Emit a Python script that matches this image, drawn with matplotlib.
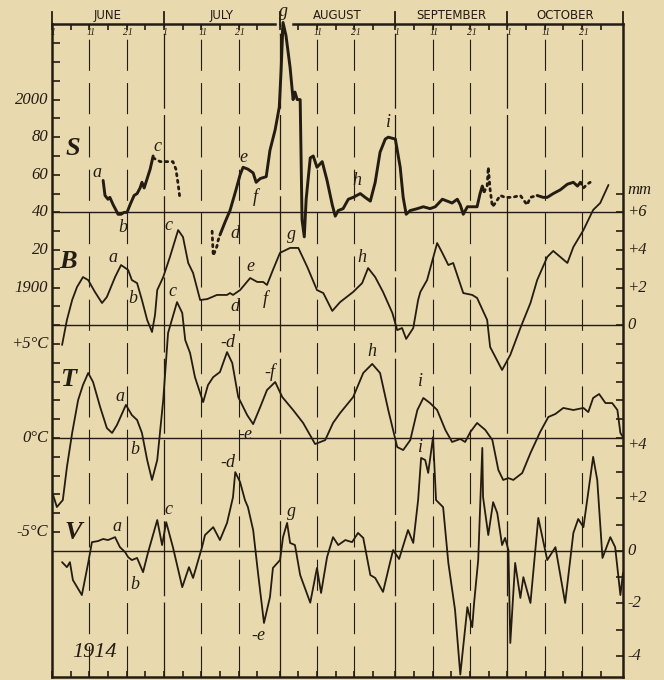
import matplotlib.pyplot as plt

paper = '#e9d9ae'
ink = '#231c12'

months = ['JUNE', 'JULY', 'AUGUST', 'SEPTEMBER', 'OCTOBER']
month_days = [30, 31, 31, 30, 31]

# S curve (left scale), day counted from 1 June; pieces drawn solid or dotted
s_solid1_day = [13.7, 14.2, 15.0, 15.5, 16.4, 17.2, 17.7, 18.5, 19.3, 20.1, 20.9, 22.0, 22.8, 23.6, 24.1, 24.7, 25.5, 26.3, 27.1]
s_solid1_val = [1957, 1949, 1947, 1948, 1944, 1941, 1939, 1939, 1940, 1940, 1944, 1949, 1950, 1953, 1956, 1953, 1958, 1963, 1970]
s_dot1_day = [27.1, 29.0, 32.4, 33.2, 33.8, 34.3]
s_dot1_val = [1969, 1967, 1967, 1963, 1955, 1947]
s_dot2_day = [42.9, 43.2, 44.2, 44.5, 45.0]
s_dot2_val = [1930, 1917, 1922, 1925, 1928]
s_solid2_day = [45.0, 46.4, 47.7, 49.3, 50.4, 51.2, 52.5, 53.9, 54.7, 55.8, 57.4, 58.4, 59.8, 60.9, 61.4, 61.9,
                62.7, 63.8, 64.6, 65.1, 65.7, 66.5, 67.0, 67.6, 68.1, 69.2, 70.0, 71.0, 72.4, 73.7, 75.1, 75.9,
                76.7, 78.0, 79.4, 80.7, 82.6, 83.9, 85.3, 86.6, 87.9, 89.3, 90.1, 92.0, 93.3, 94.1, 94.9, 96.0,
                97.9, 99.5, 101.3, 102.7, 104.6, 105.9, 107.2, 108.6, 109.4, 110.2, 111.3, 112.9, 113.9, 114.7, 115.3, 115.8]
s_solid2_val = [1928, 1935, 1941, 1952, 1960, 1964, 1963, 1961, 1956, 1958, 1959, 1973, 1984, 1996, 2016, 2041,
                2034, 2017, 2000, 2004, 2000, 2000, 1936, 1927, 1947, 1969, 1970, 1964, 1967, 1957, 1944, 1938,
                1941, 1942, 1947, 1948, 1950, 1948, 1946, 1956, 1972, 1979, 1980, 1979, 1964, 1948, 1939, 1941,
                1942, 1943, 1942, 1943, 1947, 1946, 1945, 1947, 1944, 1939, 1943, 1943, 1943, 1950, 1954, 1951]
s_dot3_day = [115.8, 116.6, 116.9, 117.4, 118.0, 118.8, 120.1, 121.4, 123.3, 125.5, 127.3, 128.2, 130.0]
s_dot3_val = [1951, 1954, 1964, 1952, 1943, 1945, 1949, 1948, 1948, 1949, 1944, 1948, 1949]
s_solid3_day = [130.0, 131.6, 132.7, 134.3, 136.2, 138.1, 139.7, 140.8, 141.6]
s_solid3_val = [1949, 1948, 1948, 1950, 1952, 1955, 1956, 1954, 1956]
s_dot4_day = [141.6, 142.4, 143.4, 144.2]
s_dot4_val = [1956, 1953, 1955, 1956]

# B curve (upper right scale, mm)
b_day = [2.7, 4.0, 5.4, 6.7, 8.3, 9.7, 11.5, 13.4, 14.7, 16.9, 18.5, 19.6, 20.4, 21.4, 22.8, 24.1, 25.5, 26.8,
         27.6, 28.2, 29.8, 31.6, 33.8, 35.1, 36.5, 37.8, 39.7, 41.6, 44.2, 46.9, 47.7, 48.5, 50.4, 53.1, 55.0,
         56.6, 57.6, 59.2, 61.1, 63.8, 66.0, 68.4, 71.0, 72.7, 75.1, 77.2, 80.7, 83.1, 84.7, 86.6, 88.7, 91.2,
         92.5, 93.8, 94.9, 96.8, 98.1, 98.7, 100.5, 103.2, 104.6, 106.2, 107.5, 110.2, 112.6, 113.9, 116.6,
         117.4, 120.6, 122.8, 125.5, 128.2, 130.0, 132.7, 134.3, 136.2, 138.1, 139.7, 142.4, 145.0, 146.9, 149.1]
b_mm = [-1.05, 0.28, 1.34, 2.03, 2.56, 2.40, 1.77, 1.18, 1.50, 2.56, 3.20, 3.05, 2.94, 2.40, 2.24, 1.34, 0.28, -0.36,
        0.54, 1.87, 2.56, 3.63, 5.06, 4.69, 3.31, 2.78, 1.34, 1.39, 1.61, 1.61, 1.71, 1.61, 1.87, 2.51, 2.30,
        2.30, 2.14, 2.94, 3.85, 4.11, 4.11, 3.10, 1.87, 1.71, 0.76, 1.23, 1.77, 2.24, 3.04, 2.56, 1.77, 0.65,
        -0.26, -0.15, -0.73, -0.15, 1.34, 1.77, 2.40, 4.37, 3.84, 3.20, 3.31, 1.71, 1.61, 1.45, 0.28,
        -1.16, -2.38, -1.58, -0.15, 1.18, 2.40, 3.63, 3.95, 3.63, 3.31, 4.16, 5.06, 6.13, 6.50, 7.46]

# T curve (degrees C)
t_day = [0.3, 1.3, 2.9, 4.0, 5.4, 7.0, 8.3, 9.7, 11.0, 12.9, 14.7, 16.1, 17.4, 19.8, 21.4, 22.8, 24.1, 25.5, 26.8,
         28.2, 29.8, 31.1, 33.5, 34.9, 35.7, 37.0, 38.3, 40.5, 41.8, 43.2, 45.0, 46.9, 48.3, 49.9, 52.3, 53.9,
         55.8, 57.6, 59.8, 61.7, 64.6, 67.3, 70.5, 73.2, 75.3, 77.2, 80.7, 83.4, 85.8, 87.9, 90.1, 92.5, 94.1,
         96.0, 97.9, 99.5, 101.3, 103.2, 105.4, 107.2, 109.4, 110.7, 112.1, 113.9, 116.1, 118.0, 119.6, 120.9,
         122.3, 123.6, 126.0, 128.2, 130.8, 133.0, 134.9, 137.0, 139.7, 142.4, 143.7, 145.0, 146.6, 148.3,
         150.1, 151.5, 152.3, 153.0]
t_deg = [-3.03, -3.67, -3.30, -1.54, 0.27, 2.02, 2.82, 3.46, 2.98, 1.65, 0.53, 0.27, 0.69, 1.76, 1.22, 0.96, 0.27,
         -1.17, -2.23, -1.17, 2.02, 5.59, 7.23, 6.65, 5.21, 4.52, 3.24, 1.91, 2.82, 3.24, 3.51, 4.57, 3.99, 2.18,
         1.22, 0.74, 1.65, 2.55, 2.98, 2.18, 1.49, 0.80, -0.32, -0.11, 0.80, 1.33, 2.18, 3.46, 3.94, 3.46, 1.49,
         -0.48, -0.64, -0.11, 1.49, 2.13, 1.86, 1.49, 0.43, -0.21, -0.05, -0.21, 0.32, 0.80, 0.43, -0.11, -1.70,
         -2.23, -2.13, -2.23, -1.86, -0.80, 0.32, 1.12, 1.28, 1.60, 1.49, 1.60, 1.38, 2.13, 2.34, 1.86, 1.86,
         1.49, 0.27, 0.05]

# V curve (lower right scale)
v_day = [2.7, 4.0, 4.8, 5.6, 8.0, 9.7, 10.7, 12.3, 13.7, 15.0, 16.9, 18.2, 19.6, 20.4, 21.4, 22.8, 24.4, 25.7,
         28.2, 29.5, 30.6, 32.4, 34.9, 36.7, 37.8, 40.2, 41.0, 43.2, 45.0, 46.9, 48.5, 49.1, 50.4, 51.7, 52.5,
         53.9, 55.2, 56.8, 58.4, 59.2, 61.1, 61.9, 63.0, 63.8, 65.1, 66.5, 69.2, 71.0, 72.1, 73.7, 75.3, 76.7,
         78.6, 80.4, 82.0, 83.4, 85.3, 86.6, 88.7, 90.6, 91.4, 93.0, 95.4, 96.8, 98.1, 98.9, 100.0, 100.8,
         102.1, 102.9, 104.8, 106.2, 108.0, 109.4, 111.3, 112.6, 113.1, 114.2, 115.3, 115.5, 116.9, 118.2,
         119.3, 120.6, 121.4, 122.3, 122.8, 124.1, 125.5, 126.3, 128.2, 130.3, 132.7, 134.9, 137.5, 139.7,
         141.0, 142.4, 145.0, 146.1, 147.5, 149.6, 150.9, 152.3, 153.0]
v_val = [-0.43, -0.62, -0.43, -1.11, -1.68, -0.46, 0.33, 0.37, 0.45, 0.41, 0.52, 0.14, -0.05, -0.24, -0.35, -0.27,
         -0.81, -0.08, 1.17, 0.22, 1.09, 0.14, -1.38, -0.62, -1.03, 0.14, 0.60, 0.90, 0.41, 1.06, 2.04, 2.99,
         2.61, 1.93, 1.66, 0.79, -0.84, -2.74, -1.76, -0.65, -0.35, 0.52, 1.06, 0.30, 0.22, -0.92, -1.97,
         -0.65, -1.60, -0.24, 0.52, 0.22, 0.41, 0.33, 0.68, 0.49, -0.92, -1.03, -1.56, -0.43, 0.03, -0.31,
         0.79, 0.30, 1.93, 3.53, 3.45, 2.96, 4.32, 1.93, 1.66, -0.46, -2.25, -4.7, -2.14, -2.90, -1.98, -0.35,
         3.91, 2.04, 0.60, 1.85, 1.44, 0.22, 0.49, 0.03, -3.50, -0.46, -1.79, -1.00, -1.98, 1.25, -0.35, 0.14,
         -1.98, 0.68, 1.21, 0.90, 3.57, 2.69, -0.27, 0.52, 0.14, -1.68, -0.84]


# every curve is put on one common vertical scale (1 unit = one left tick)
def s_y(v): return [8 + (x - 1900) / 10 for x in v]
def b_y(v): return [6 + x for x in v]
def t_y(v): return list(v)
def v_y(v): return [-6 + 1.4 * x for x in v]


fig = plt.figure(figsize=(6.64, 6.80), dpi=100, facecolor=paper)
ax = fig.add_axes([52 / 664, 3 / 680, 571 / 664, 653 / 680], facecolor=paper)
ax.set_xlim(0, 153)
ax.set_ylim(-12.71, 22.02)

starts = [0]
for n in month_days:
    starts.append(starts[-1] + n)

# vertical guide lines
for s in starts[1:-1]:
    ax.axvline(s, color=ink, lw=0.9, ls=(0, (60, 5)), zorder=1)
for s in starts[:-1]:
    for d in (10, 20):
        ax.axvline(s + d, color=ink, lw=0.8, ls=(0, (28, 11)), zorder=1)

# base lines
for yb in (12, 6, 0, -6):
    ax.axhline(yb, color=ink, lw=1.0, zorder=1)

lw_s = 2.1
lw = 1.3
kw = dict(color=ink, solid_joinstyle='round', solid_capstyle='round')
ax.plot(s_solid1_day, s_y(s_solid1_val), lw=lw_s, clip_on=False, **kw)
ax.plot(s_solid2_day, s_y(s_solid2_val), lw=lw_s, clip_on=False, **kw)
ax.plot(s_solid3_day, s_y(s_solid3_val), lw=lw_s, clip_on=False, **kw)
for dd, vv in ((s_dot1_day, s_dot1_val), (s_dot2_day, s_dot2_val), (s_dot3_day, s_dot3_val), (s_dot4_day, s_dot4_val)):
    ax.plot(dd, s_y(vv), color=ink, lw=2.0, ls=(0, (0.8, 1.6)), dash_capstyle='round')
ax.plot(b_day, b_y(b_mm), lw=lw, **kw)
ax.plot(t_day, t_y(t_deg), lw=lw, **kw)
ax.plot(v_day, v_y(v_val), lw=lw, clip_on=False, **kw)

# frame (top line broken around the peak g)
for sp in ax.spines.values():
    sp.set_color(ink)
    sp.set_linewidth(1.8)
ax.spines['top'].set_visible(False)
ax.plot([0, 59.8], [22.02, 22.02], color=ink, lw=1.8, clip_on=False)
ax.plot([64.6, 153], [22.02, 22.02], color=ink, lw=1.8, clip_on=False)

ticks = [s + k for s in starts[:-1] for k in (0, 5, 10, 15, 20, 25)]
ax.set_xticks(ticks)
ax.set_xticklabels([])
ax.tick_params(axis='x', which='both', top=True, bottom=True, direction='in', length=4, width=1.2, color=ink)
ax.set_yticks(range(-5, 22))
ax.set_yticklabels([])
ax.tick_params(axis='y', direction='in', length=6, width=1.2, color=ink, right=False)

ax2 = ax.twinx()
ax2.set_ylim(ax.get_ylim())
right_ticks = list(range(0, 14)) + [-0.4 - 1.4 * k for k in range(9)]
ax2.set_yticks(right_ticks)
ax2.set_yticklabels([])
ax2.tick_params(axis='y', direction='in', length=5, width=1.2, color=ink)
for sp in ax2.spines.values():
    sp.set_visible(False)

# month header
serif = 'Liberation Serif'
for name, s, n in zip(months, starts[:-1], month_days):
    ax.text(s + n / 2, 22.45, name, ha='center', va='center', fontsize=8.5, color=ink, clip_on=False)
for s in starts:
    ax.plot([s, s], [22.02, 22.65], color=ink, lw=1.3, clip_on=False)
for s in starts[:-1]:
    for d, lab in ((0, '1'), (10, '11'), (20, '21')):
        ax.text(s + d + 0.4, 21.55, lab, ha='center', va='center', fontsize=7, style='italic',
                family=serif, color=ink)

# left scale labels
left_labels = [('2000', 18), ('80', 16), ('60', 14), ('40', 12), ('20', 10), ('1900', 8),
               ('+5°C', 5), ('0°C', 0), ('-5°C', -5)]
for lab, yv in left_labels:
    ax.text(-1.0, yv, lab, ha='right', va='center', fontsize=12, style='italic', family=serif,
            color=ink, clip_on=False)

right_labels = [('mm', 13.2), ('+6', 12), ('+4', 10), ('+2', 8), ('0', 6),
                ('+4', -0.35), ('+2', -3.2), ('0', -6), ('-2', -8.8), ('-4', -11.6)]
for lab, yv in right_labels:
    ax.text(154.2, yv, lab, ha='left', va='center', fontsize=12, style='italic', family=serif,
            color=ink, clip_on=False)

# curve names and letters
names = [('S', 5.6, 15.4), ('B', 4.3, 9.4), ('T', 4.3, 3.1), ('V', 5.6, -5.05)]
for lab, xd, yv in names:
    ax.text(xd, yv, lab, ha='center', va='center', fontsize=19, style='italic', weight='bold',
            family=serif, color=ink)
letters = [('a', 12.1, 14.1), ('b', 19.0, 11.2), ('c', 28.2, 15.5), ('d', 49.1, 10.9), ('e', 51.2, 14.9),
           ('f', 54.4, 12.8), ('g', 61.9, 22.7), ('h', 81.8, 13.7), ('i', 90.1, 16.8),
           ('a', 16.4, 9.6), ('b', 21.7, 7.4), ('c', 31.1, 11.3), ('d', 49.1, 7.0), ('e', 53.1, 9.1),
           ('f', 57.1, 7.4), ('g', 64.3, 10.8), ('h', 83.1, 9.6),
           ('c', 32.2, 7.8), ('a', 18.2, 2.2), ('b', 22.3, -0.6), ('-d', 47.2, 5.1), ('-f', 58.4, 3.5),
           ('-e', 51.7, 0.2), ('h', 85.8, 4.6), ('i', 98.7, 3.0),
           ('-d', 47.2, -1.3), ('i', 98.7, -0.5), ('a', 17.4, -4.7), ('b', 22.3, -7.8), ('c', 31.1, -3.8),
           ('g', 64.3, -3.9), ('-e', 55.2, -10.5)]
for lab, xd, yv in letters:
    ax.text(xd, yv, lab, ha='center', va='center', fontsize=13, style='italic', family=serif,
            color=ink, clip_on=False)
ax.text(11.5, -11.4, '1914', ha='center', va='center', fontsize=16, style='italic', family=serif, color=ink)

fig.savefig('out.png', dpi=100, facecolor=paper)
